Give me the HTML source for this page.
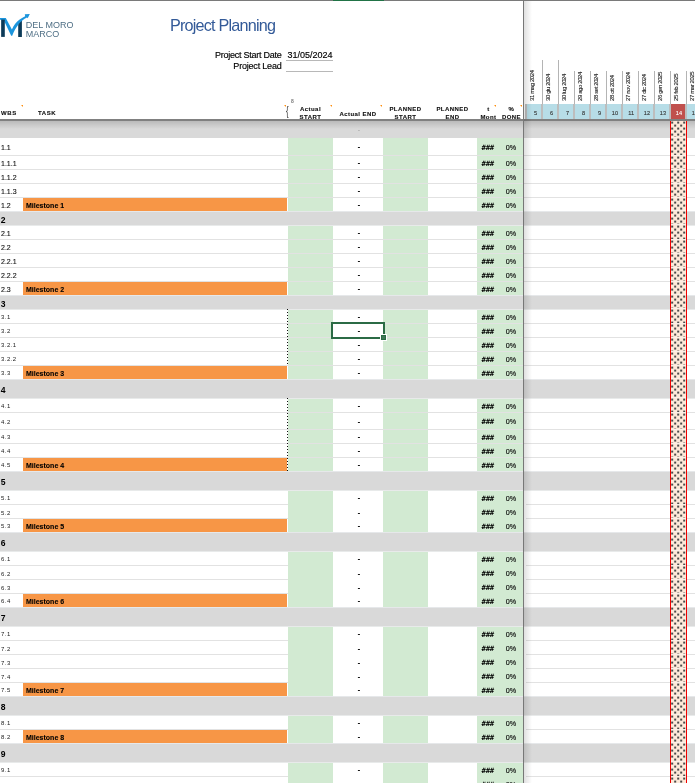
<!DOCTYPE html>
<html><head><meta charset="utf-8"><title>Project Planning</title>
<style>
*{margin:0;padding:0;box-sizing:border-box}
html,body{width:695px;height:783px;overflow:hidden;background:#fff}
body{position:relative;font-family:"Liberation Sans",Arial,sans-serif;color:#222}
.a{position:absolute}
.t{position:absolute;white-space:nowrap;line-height:1}
.hd{position:absolute;white-space:nowrap;line-height:1;font-weight:bold;font-size:6px;letter-spacing:0.45px;color:#111;text-align:center;-webkit-text-stroke:0.12px #111}
.wb{position:absolute;white-space:nowrap;line-height:1;font-size:7px;color:#111;left:1px;-webkit-text-stroke:0.12px #111}
.ws{position:absolute;white-space:nowrap;line-height:1;font-size:6px;color:#1a1a1a;left:1px;letter-spacing:0.45px}
.gl{position:absolute;white-space:nowrap;line-height:1;font-size:8.6px;font-weight:bold;color:#000;left:0.8px}
.ms{position:absolute;white-space:nowrap;line-height:1;font-size:7px;font-weight:bold;color:#000;left:26px;-webkit-text-stroke:0.1px #000}
.dash{position:absolute;left:357.8px;font-size:7px;-webkit-text-stroke:0.25px #111;font-weight:bold;line-height:1;color:#111;white-space:nowrap}
.hash{position:absolute;left:481.6px;font-family:"DejaVu Sans Mono",monospace;font-size:7.3px;font-weight:bold;line-height:1;letter-spacing:-0.3px;color:#000}
.pct{position:absolute;left:505.8px;font-size:7.2px;line-height:1;color:#000;-webkit-text-stroke:0.12px #000}
.dl{position:absolute;white-space:nowrap;line-height:1;font-size:6px;letter-spacing:-0.4px;color:#222;-webkit-text-stroke:0.1px #222;transform-origin:0 0;transform:rotate(-90deg)}
.wk{position:absolute;top:104px;height:15px;width:14px;background:#b7dde7}
.wn{position:absolute;font-size:5.6px;line-height:1;color:#222;white-space:nowrap;-webkit-text-stroke:0.1px}
.tri{position:absolute;width:0;height:0;border-top:2.5px solid #ff9010;border-left:2.5px solid transparent}
</style></head><body>

<div class="a" style="left:0;top:0;width:695px;height:1px;background:#7a7a7a"></div>
<div class="a" style="left:333px;top:0;width:51px;height:1px;background:#217346"></div>
<svg class="a" style="left:0;top:12px" width="75" height="28" viewBox="0 12 75 28">
<path d="M18.2 21.2 L21.9 19.8 L21.9 36.9 L18.2 36.9 Z" fill="#0c3a58"/>
<path d="M0 18 L5.8 18 L11.9 29.6 C13.6 25.6 16.6 21.6 19.3 19.8 C21 18.6 23 17.4 25.2 16.2 L24.8 14.2 L29.8 13.9 L27.7 18.2 L27 17.4 C20.3 20.7 15.8 26.6 12.2 35.8 L11.2 35.8 L3.8 20.2 L0 19.8 Z" fill="#1b95dd"/>
<path d="M1.15 19.6 L4.8 19.6 L4.8 36.9 L1.15 36.9 Z" fill="#0c3a58"/>
<text x="25.8" y="27.7" font-family="Liberation Sans, Arial, sans-serif" font-size="9" letter-spacing="0" fill="#4f6f85">DEL MORO</text>
<text x="25.8" y="37.1" font-family="Liberation Sans, Arial, sans-serif" font-size="9" letter-spacing="0" fill="#4f6f85">MARCO</text>
</svg>
<div class="t" style="left:170px;top:16.5px;font-size:16.2px;letter-spacing:-0.8px;color:#335a98">Project Planning</div>
<div class="t" style="left:200px;width:81.5px;text-align:right;top:50.9px;font-size:9px;letter-spacing:-0.25px;color:#000;-webkit-text-stroke:0.15px #000">Project Start Date</div>
<div class="t" style="left:200px;width:81.5px;text-align:right;top:62px;font-size:9px;letter-spacing:-0.2px;color:#000;-webkit-text-stroke:0.15px #000">Project Lead</div>
<div class="t" style="left:287.5px;top:50.9px;font-size:9px;letter-spacing:0px;color:#000;-webkit-text-stroke:0.15px #000">31/05/2024</div>
<div class="a" style="left:286px;top:60px;width:47px;height:1px;background:#b8b8b8"></div>
<div class="a" style="left:286px;top:71px;width:47px;height:1px;background:#b8b8b8"></div>
<div class="hd" style="left:1px;top:110px;letter-spacing:0.6px">WBS</div>
<div class="hd" style="left:38px;top:110px;letter-spacing:0.6px">TASK</div>
<div class="hd" style="left:288px;width:45px;top:106px">Actual</div>
<div class="hd" style="left:288px;width:45px;top:114px">START</div>
<div class="hd" style="left:333px;width:50px;top:110.5px">Actual END</div>
<div class="hd" style="left:383px;width:45px;top:106px">PLANNED</div>
<div class="hd" style="left:383px;width:45px;top:114px">START</div>
<div class="hd" style="left:428px;width:49px;top:106px">PLANNED</div>
<div class="hd" style="left:428px;width:49px;top:114px">END</div>
<div class="hd" style="left:477px;width:23px;top:106px">t</div>
<div class="hd" style="left:477px;width:23px;top:114px">Mont</div>
<div class="hd" style="left:500px;width:23px;top:106px">%</div>
<div class="hd" style="left:500px;width:23px;top:114px">DONE</div>
<div class="tri" style="left:21px;top:104.6px"></div>
<div class="tri" style="left:284px;top:104.6px"></div>
<div class="tri" style="left:330px;top:104.6px"></div>
<div class="tri" style="left:380px;top:104.6px"></div>
<div class="tri" style="left:494px;top:104.6px"></div>
<div class="tri" style="left:520px;top:104.6px"></div>
<div class="t" style="left:291px;top:98.8px;font-size:5px;font-weight:bold;color:#777">8</div>
<div class="t" style="left:286px;top:104px;font-size:13px;color:#333;transform:scaleX(0.6);transform-origin:0 0">{</div>
<div class="a" style="left:0;top:121px;width:695px;height:17px;background:#d9d9d9"></div>
<div class="a" style="left:288px;top:138px;width:45px;height:17px;background:#d2ead2"></div>
<div class="a" style="left:383px;top:138px;width:45px;height:17px;background:#d2ead2"></div>
<div class="a" style="left:477px;top:138px;width:46px;height:17px;background:#d2ead2"></div>
<div class="a" style="left:0;top:155px;width:695px;height:1px;background:#e2e2e2"></div>
<div class="wb" style="top:144.2px">1.1</div>
<div class="dash" style="top:142.8px">-</div>
<div class="hash" style="top:143.5px">###</div>
<div class="pct" style="top:143.5px">0%</div>
<div class="a" style="left:288px;top:156px;width:45px;height:13px;background:#d2ead2"></div>
<div class="a" style="left:383px;top:156px;width:45px;height:13px;background:#d2ead2"></div>
<div class="a" style="left:477px;top:156px;width:46px;height:13px;background:#d2ead2"></div>
<div class="a" style="left:0;top:169px;width:695px;height:1px;background:#e2e2e2"></div>
<div class="wb" style="top:160.2px">1.1.1</div>
<div class="dash" style="top:158.8px">-</div>
<div class="hash" style="top:159.5px">###</div>
<div class="pct" style="top:159.5px">0%</div>
<div class="a" style="left:288px;top:170px;width:45px;height:13px;background:#d2ead2"></div>
<div class="a" style="left:383px;top:170px;width:45px;height:13px;background:#d2ead2"></div>
<div class="a" style="left:477px;top:170px;width:46px;height:13px;background:#d2ead2"></div>
<div class="a" style="left:0;top:183px;width:695px;height:1px;background:#e2e2e2"></div>
<div class="wb" style="top:174.2px">1.1.2</div>
<div class="dash" style="top:172.8px">-</div>
<div class="hash" style="top:173.5px">###</div>
<div class="pct" style="top:173.5px">0%</div>
<div class="a" style="left:288px;top:184px;width:45px;height:13px;background:#d2ead2"></div>
<div class="a" style="left:383px;top:184px;width:45px;height:13px;background:#d2ead2"></div>
<div class="a" style="left:477px;top:184px;width:46px;height:13px;background:#d2ead2"></div>
<div class="a" style="left:0;top:197px;width:695px;height:1px;background:#e2e2e2"></div>
<div class="wb" style="top:188.2px">1.1.3</div>
<div class="dash" style="top:186.8px">-</div>
<div class="hash" style="top:187.5px">###</div>
<div class="pct" style="top:187.5px">0%</div>
<div class="a" style="left:288px;top:198px;width:45px;height:13px;background:#d2ead2"></div>
<div class="a" style="left:383px;top:198px;width:45px;height:13px;background:#d2ead2"></div>
<div class="a" style="left:477px;top:198px;width:46px;height:13px;background:#d2ead2"></div>
<div class="a" style="left:23px;top:198px;width:264px;height:13px;background:#f79646"></div>
<div class="ms" style="top:201.5px">Milestone 1</div>
<div class="wb" style="top:202.2px">1.2</div>
<div class="dash" style="top:200.8px">-</div>
<div class="hash" style="top:201.5px">###</div>
<div class="pct" style="top:201.5px">0%</div>
<div class="a" style="left:0;top:211px;width:695px;height:14px;background:#d9d9d9"></div>
<div class="a" style="left:0;top:211px;width:695px;height:1px;background:#e6e8ea"></div>
<div class="gl" style="top:215.7px">2</div>
<div class="a" style="left:288px;top:225px;width:45px;height:14px;background:#d2ead2"></div>
<div class="a" style="left:383px;top:225px;width:45px;height:14px;background:#d2ead2"></div>
<div class="a" style="left:477px;top:225px;width:46px;height:14px;background:#d2ead2"></div>
<div class="a" style="left:0;top:239px;width:695px;height:1px;background:#e2e2e2"></div>
<div class="a" style="left:0;top:225px;width:695px;height:1px;background:#e8eaea"></div>
<div class="wb" style="top:229.7px">2.1</div>
<div class="dash" style="top:228.8px">-</div>
<div class="hash" style="top:230.0px">###</div>
<div class="pct" style="top:230.0px">0%</div>
<div class="a" style="left:288px;top:240px;width:45px;height:13px;background:#d2ead2"></div>
<div class="a" style="left:383px;top:240px;width:45px;height:13px;background:#d2ead2"></div>
<div class="a" style="left:477px;top:240px;width:46px;height:13px;background:#d2ead2"></div>
<div class="a" style="left:0;top:253px;width:695px;height:1px;background:#e2e2e2"></div>
<div class="wb" style="top:244.2px">2.2</div>
<div class="dash" style="top:242.8px">-</div>
<div class="hash" style="top:243.5px">###</div>
<div class="pct" style="top:243.5px">0%</div>
<div class="a" style="left:288px;top:254px;width:45px;height:13px;background:#d2ead2"></div>
<div class="a" style="left:383px;top:254px;width:45px;height:13px;background:#d2ead2"></div>
<div class="a" style="left:477px;top:254px;width:46px;height:13px;background:#d2ead2"></div>
<div class="a" style="left:0;top:267px;width:695px;height:1px;background:#e2e2e2"></div>
<div class="wb" style="top:258.2px">2.2.1</div>
<div class="dash" style="top:256.8px">-</div>
<div class="hash" style="top:257.5px">###</div>
<div class="pct" style="top:257.5px">0%</div>
<div class="a" style="left:288px;top:268px;width:45px;height:13px;background:#d2ead2"></div>
<div class="a" style="left:383px;top:268px;width:45px;height:13px;background:#d2ead2"></div>
<div class="a" style="left:477px;top:268px;width:46px;height:13px;background:#d2ead2"></div>
<div class="a" style="left:0;top:281px;width:695px;height:1px;background:#e2e2e2"></div>
<div class="wb" style="top:272.2px">2.2.2</div>
<div class="dash" style="top:270.8px">-</div>
<div class="hash" style="top:271.5px">###</div>
<div class="pct" style="top:271.5px">0%</div>
<div class="a" style="left:288px;top:282px;width:45px;height:13px;background:#d2ead2"></div>
<div class="a" style="left:383px;top:282px;width:45px;height:13px;background:#d2ead2"></div>
<div class="a" style="left:477px;top:282px;width:46px;height:13px;background:#d2ead2"></div>
<div class="a" style="left:23px;top:282px;width:264px;height:13px;background:#f79646"></div>
<div class="ms" style="top:285.5px">Milestone 2</div>
<div class="wb" style="top:286.2px">2.3</div>
<div class="dash" style="top:284.8px">-</div>
<div class="hash" style="top:285.5px">###</div>
<div class="pct" style="top:285.5px">0%</div>
<div class="a" style="left:0;top:295px;width:695px;height:14px;background:#d9d9d9"></div>
<div class="a" style="left:0;top:295px;width:695px;height:1px;background:#e6e8ea"></div>
<div class="gl" style="top:299.7px">3</div>
<div class="a" style="left:288px;top:309px;width:45px;height:14px;background:#d2ead2"></div>
<div class="a" style="left:383px;top:309px;width:45px;height:14px;background:#d2ead2"></div>
<div class="a" style="left:477px;top:309px;width:46px;height:14px;background:#d2ead2"></div>
<div class="a" style="left:0;top:323px;width:695px;height:1px;background:#e2e2e2"></div>
<div class="a" style="left:0;top:309px;width:695px;height:1px;background:#e8eaea"></div>
<div class="ws" style="top:313.8px">3.1</div>
<div class="dash" style="top:312.8px">-</div>
<div class="hash" style="top:314.0px">###</div>
<div class="pct" style="top:314.0px">0%</div>
<div class="a" style="left:288px;top:324px;width:45px;height:13px;background:#d2ead2"></div>
<div class="a" style="left:383px;top:324px;width:45px;height:13px;background:#d2ead2"></div>
<div class="a" style="left:477px;top:324px;width:46px;height:13px;background:#d2ead2"></div>
<div class="a" style="left:0;top:337px;width:695px;height:1px;background:#e2e2e2"></div>
<div class="ws" style="top:328.3px">3.2</div>
<div class="dash" style="top:326.8px">-</div>
<div class="hash" style="top:327.5px">###</div>
<div class="pct" style="top:327.5px">0%</div>
<div class="a" style="left:288px;top:338px;width:45px;height:13px;background:#d2ead2"></div>
<div class="a" style="left:383px;top:338px;width:45px;height:13px;background:#d2ead2"></div>
<div class="a" style="left:477px;top:338px;width:46px;height:13px;background:#d2ead2"></div>
<div class="a" style="left:0;top:351px;width:695px;height:1px;background:#e2e2e2"></div>
<div class="ws" style="top:342.3px">3.2.1</div>
<div class="dash" style="top:340.8px">-</div>
<div class="hash" style="top:341.5px">###</div>
<div class="pct" style="top:341.5px">0%</div>
<div class="a" style="left:288px;top:352px;width:45px;height:13px;background:#d2ead2"></div>
<div class="a" style="left:383px;top:352px;width:45px;height:13px;background:#d2ead2"></div>
<div class="a" style="left:477px;top:352px;width:46px;height:13px;background:#d2ead2"></div>
<div class="a" style="left:0;top:365px;width:695px;height:1px;background:#e2e2e2"></div>
<div class="ws" style="top:356.3px">3.2.2</div>
<div class="dash" style="top:354.8px">-</div>
<div class="hash" style="top:355.5px">###</div>
<div class="pct" style="top:355.5px">0%</div>
<div class="a" style="left:288px;top:366px;width:45px;height:13px;background:#d2ead2"></div>
<div class="a" style="left:383px;top:366px;width:45px;height:13px;background:#d2ead2"></div>
<div class="a" style="left:477px;top:366px;width:46px;height:13px;background:#d2ead2"></div>
<div class="a" style="left:23px;top:366px;width:264px;height:13px;background:#f79646"></div>
<div class="ms" style="top:369.5px">Milestone 3</div>
<div class="ws" style="top:370.3px">3.3</div>
<div class="dash" style="top:368.8px">-</div>
<div class="hash" style="top:369.5px">###</div>
<div class="pct" style="top:369.5px">0%</div>
<div class="a" style="left:0;top:379px;width:695px;height:19px;background:#d9d9d9"></div>
<div class="a" style="left:0;top:379px;width:695px;height:1px;background:#e6e8ea"></div>
<div class="gl" style="top:386.2px">4</div>
<div class="a" style="left:288px;top:398px;width:45px;height:14px;background:#d2ead2"></div>
<div class="a" style="left:383px;top:398px;width:45px;height:14px;background:#d2ead2"></div>
<div class="a" style="left:477px;top:398px;width:46px;height:14px;background:#d2ead2"></div>
<div class="a" style="left:0;top:412px;width:695px;height:1px;background:#e2e2e2"></div>
<div class="a" style="left:0;top:398px;width:695px;height:1px;background:#e8eaea"></div>
<div class="ws" style="top:402.8px">4.1</div>
<div class="dash" style="top:401.8px">-</div>
<div class="hash" style="top:403.0px">###</div>
<div class="pct" style="top:403.0px">0%</div>
<div class="a" style="left:288px;top:413px;width:45px;height:16px;background:#d2ead2"></div>
<div class="a" style="left:383px;top:413px;width:45px;height:16px;background:#d2ead2"></div>
<div class="a" style="left:477px;top:413px;width:46px;height:16px;background:#d2ead2"></div>
<div class="a" style="left:0;top:429px;width:695px;height:1px;background:#e2e2e2"></div>
<div class="ws" style="top:418.8px">4.2</div>
<div class="dash" style="top:417.8px">-</div>
<div class="hash" style="top:418.0px">###</div>
<div class="pct" style="top:418.0px">0%</div>
<div class="a" style="left:288px;top:430px;width:45px;height:13px;background:#d2ead2"></div>
<div class="a" style="left:383px;top:430px;width:45px;height:13px;background:#d2ead2"></div>
<div class="a" style="left:477px;top:430px;width:46px;height:13px;background:#d2ead2"></div>
<div class="a" style="left:0;top:443px;width:695px;height:1px;background:#e2e2e2"></div>
<div class="ws" style="top:434.3px">4.3</div>
<div class="dash" style="top:432.8px">-</div>
<div class="hash" style="top:433.5px">###</div>
<div class="pct" style="top:433.5px">0%</div>
<div class="a" style="left:288px;top:444px;width:45px;height:13px;background:#d2ead2"></div>
<div class="a" style="left:383px;top:444px;width:45px;height:13px;background:#d2ead2"></div>
<div class="a" style="left:477px;top:444px;width:46px;height:13px;background:#d2ead2"></div>
<div class="a" style="left:0;top:457px;width:695px;height:1px;background:#e2e2e2"></div>
<div class="ws" style="top:448.3px">4.4</div>
<div class="dash" style="top:446.8px">-</div>
<div class="hash" style="top:447.5px">###</div>
<div class="pct" style="top:447.5px">0%</div>
<div class="a" style="left:288px;top:458px;width:45px;height:13px;background:#d2ead2"></div>
<div class="a" style="left:383px;top:458px;width:45px;height:13px;background:#d2ead2"></div>
<div class="a" style="left:477px;top:458px;width:46px;height:13px;background:#d2ead2"></div>
<div class="a" style="left:23px;top:458px;width:264px;height:13px;background:#f79646"></div>
<div class="ms" style="top:461.5px">Milestone 4</div>
<div class="ws" style="top:462.3px">4.5</div>
<div class="dash" style="top:460.8px">-</div>
<div class="hash" style="top:461.5px">###</div>
<div class="pct" style="top:461.5px">0%</div>
<div class="a" style="left:0;top:471px;width:695px;height:19px;background:#d9d9d9"></div>
<div class="a" style="left:0;top:471px;width:695px;height:1px;background:#e6e8ea"></div>
<div class="gl" style="top:478.2px">5</div>
<div class="a" style="left:288px;top:490px;width:45px;height:15px;background:#d2ead2"></div>
<div class="a" style="left:383px;top:490px;width:45px;height:15px;background:#d2ead2"></div>
<div class="a" style="left:477px;top:490px;width:46px;height:15px;background:#d2ead2"></div>
<div class="a" style="left:0;top:504px;width:288px;height:1px;background:#e2e2e2"></div>
<div class="a" style="left:526px;top:504px;width:169px;height:1px;background:#e2e2e2"></div>
<div class="a" style="left:0;top:490px;width:695px;height:1px;background:#e8eaea"></div>
<div class="ws" style="top:495.3px">5.1</div>
<div class="dash" style="top:493.8px">-</div>
<div class="hash" style="top:495.0px">###</div>
<div class="pct" style="top:495.0px">0%</div>
<div class="a" style="left:288px;top:505px;width:45px;height:14px;background:#d2ead2"></div>
<div class="a" style="left:383px;top:505px;width:45px;height:14px;background:#d2ead2"></div>
<div class="a" style="left:477px;top:505px;width:46px;height:14px;background:#d2ead2"></div>
<div class="a" style="left:0;top:518px;width:288px;height:1px;background:#e2e2e2"></div>
<div class="a" style="left:526px;top:518px;width:169px;height:1px;background:#e2e2e2"></div>
<div class="ws" style="top:509.8px">5.2</div>
<div class="dash" style="top:508.8px">-</div>
<div class="hash" style="top:509.0px">###</div>
<div class="pct" style="top:509.0px">0%</div>
<div class="a" style="left:288px;top:519px;width:45px;height:13px;background:#d2ead2"></div>
<div class="a" style="left:383px;top:519px;width:45px;height:13px;background:#d2ead2"></div>
<div class="a" style="left:477px;top:519px;width:46px;height:13px;background:#d2ead2"></div>
<div class="a" style="left:23px;top:519px;width:264px;height:13px;background:#f79646"></div>
<div class="ms" style="top:522.5px">Milestone 5</div>
<div class="ws" style="top:523.3px">5.3</div>
<div class="dash" style="top:521.8px">-</div>
<div class="hash" style="top:522.5px">###</div>
<div class="pct" style="top:522.5px">0%</div>
<div class="a" style="left:0;top:532px;width:695px;height:19px;background:#d9d9d9"></div>
<div class="a" style="left:0;top:532px;width:695px;height:1px;background:#e6e8ea"></div>
<div class="gl" style="top:539.2px">6</div>
<div class="a" style="left:288px;top:551px;width:45px;height:15px;background:#d2ead2"></div>
<div class="a" style="left:383px;top:551px;width:45px;height:15px;background:#d2ead2"></div>
<div class="a" style="left:477px;top:551px;width:46px;height:15px;background:#d2ead2"></div>
<div class="a" style="left:0;top:565px;width:288px;height:1px;background:#e2e2e2"></div>
<div class="a" style="left:526px;top:565px;width:169px;height:1px;background:#e2e2e2"></div>
<div class="a" style="left:0;top:551px;width:695px;height:1px;background:#e8eaea"></div>
<div class="ws" style="top:556.3px">6.1</div>
<div class="dash" style="top:554.8px">-</div>
<div class="hash" style="top:556.0px">###</div>
<div class="pct" style="top:556.0px">0%</div>
<div class="a" style="left:288px;top:566px;width:45px;height:14px;background:#d2ead2"></div>
<div class="a" style="left:383px;top:566px;width:45px;height:14px;background:#d2ead2"></div>
<div class="a" style="left:477px;top:566px;width:46px;height:14px;background:#d2ead2"></div>
<div class="a" style="left:0;top:579px;width:288px;height:1px;background:#e2e2e2"></div>
<div class="a" style="left:526px;top:579px;width:169px;height:1px;background:#e2e2e2"></div>
<div class="ws" style="top:570.8px">6.2</div>
<div class="dash" style="top:569.8px">-</div>
<div class="hash" style="top:570.0px">###</div>
<div class="pct" style="top:570.0px">0%</div>
<div class="a" style="left:288px;top:580px;width:45px;height:14px;background:#d2ead2"></div>
<div class="a" style="left:383px;top:580px;width:45px;height:14px;background:#d2ead2"></div>
<div class="a" style="left:477px;top:580px;width:46px;height:14px;background:#d2ead2"></div>
<div class="a" style="left:0;top:593px;width:288px;height:1px;background:#e2e2e2"></div>
<div class="a" style="left:526px;top:593px;width:169px;height:1px;background:#e2e2e2"></div>
<div class="ws" style="top:584.8px">6.3</div>
<div class="dash" style="top:583.8px">-</div>
<div class="hash" style="top:584.0px">###</div>
<div class="pct" style="top:584.0px">0%</div>
<div class="a" style="left:288px;top:594px;width:45px;height:13px;background:#d2ead2"></div>
<div class="a" style="left:383px;top:594px;width:45px;height:13px;background:#d2ead2"></div>
<div class="a" style="left:477px;top:594px;width:46px;height:13px;background:#d2ead2"></div>
<div class="a" style="left:23px;top:594px;width:264px;height:13px;background:#f79646"></div>
<div class="ms" style="top:597.5px">Milestone 6</div>
<div class="ws" style="top:598.3px">6.4</div>
<div class="dash" style="top:596.8px">-</div>
<div class="hash" style="top:597.5px">###</div>
<div class="pct" style="top:597.5px">0%</div>
<div class="a" style="left:0;top:607px;width:695px;height:19px;background:#d9d9d9"></div>
<div class="a" style="left:0;top:607px;width:695px;height:1px;background:#e6e8ea"></div>
<div class="gl" style="top:614.2px">7</div>
<div class="a" style="left:288px;top:626px;width:45px;height:15px;background:#d2ead2"></div>
<div class="a" style="left:383px;top:626px;width:45px;height:15px;background:#d2ead2"></div>
<div class="a" style="left:477px;top:626px;width:46px;height:15px;background:#d2ead2"></div>
<div class="a" style="left:0;top:640px;width:288px;height:1px;background:#e2e2e2"></div>
<div class="a" style="left:526px;top:640px;width:169px;height:1px;background:#e2e2e2"></div>
<div class="a" style="left:0;top:626px;width:695px;height:1px;background:#e8eaea"></div>
<div class="ws" style="top:631.3px">7.1</div>
<div class="dash" style="top:629.8px">-</div>
<div class="hash" style="top:631.0px">###</div>
<div class="pct" style="top:631.0px">0%</div>
<div class="a" style="left:288px;top:641px;width:45px;height:14px;background:#d2ead2"></div>
<div class="a" style="left:383px;top:641px;width:45px;height:14px;background:#d2ead2"></div>
<div class="a" style="left:477px;top:641px;width:46px;height:14px;background:#d2ead2"></div>
<div class="a" style="left:0;top:654px;width:288px;height:1px;background:#e2e2e2"></div>
<div class="a" style="left:526px;top:654px;width:169px;height:1px;background:#e2e2e2"></div>
<div class="ws" style="top:645.8px">7.2</div>
<div class="dash" style="top:644.8px">-</div>
<div class="hash" style="top:645.0px">###</div>
<div class="pct" style="top:645.0px">0%</div>
<div class="a" style="left:288px;top:655px;width:45px;height:14px;background:#d2ead2"></div>
<div class="a" style="left:383px;top:655px;width:45px;height:14px;background:#d2ead2"></div>
<div class="a" style="left:477px;top:655px;width:46px;height:14px;background:#d2ead2"></div>
<div class="a" style="left:0;top:668px;width:288px;height:1px;background:#e2e2e2"></div>
<div class="a" style="left:526px;top:668px;width:169px;height:1px;background:#e2e2e2"></div>
<div class="ws" style="top:659.8px">7.3</div>
<div class="dash" style="top:658.8px">-</div>
<div class="hash" style="top:659.0px">###</div>
<div class="pct" style="top:659.0px">0%</div>
<div class="a" style="left:288px;top:669px;width:45px;height:14px;background:#d2ead2"></div>
<div class="a" style="left:383px;top:669px;width:45px;height:14px;background:#d2ead2"></div>
<div class="a" style="left:477px;top:669px;width:46px;height:14px;background:#d2ead2"></div>
<div class="a" style="left:0;top:682px;width:288px;height:1px;background:#e2e2e2"></div>
<div class="a" style="left:526px;top:682px;width:169px;height:1px;background:#e2e2e2"></div>
<div class="ws" style="top:673.8px">7.4</div>
<div class="dash" style="top:672.8px">-</div>
<div class="hash" style="top:673.0px">###</div>
<div class="pct" style="top:673.0px">0%</div>
<div class="a" style="left:288px;top:683px;width:45px;height:13px;background:#d2ead2"></div>
<div class="a" style="left:383px;top:683px;width:45px;height:13px;background:#d2ead2"></div>
<div class="a" style="left:477px;top:683px;width:46px;height:13px;background:#d2ead2"></div>
<div class="a" style="left:23px;top:683px;width:264px;height:13px;background:#f79646"></div>
<div class="ms" style="top:686.5px">Milestone 7</div>
<div class="ws" style="top:687.3px">7.5</div>
<div class="dash" style="top:685.8px">-</div>
<div class="hash" style="top:686.5px">###</div>
<div class="pct" style="top:686.5px">0%</div>
<div class="a" style="left:0;top:696px;width:695px;height:19px;background:#d9d9d9"></div>
<div class="a" style="left:0;top:696px;width:695px;height:1px;background:#e6e8ea"></div>
<div class="gl" style="top:703.2px">8</div>
<div class="a" style="left:288px;top:715px;width:45px;height:15px;background:#d2ead2"></div>
<div class="a" style="left:383px;top:715px;width:45px;height:15px;background:#d2ead2"></div>
<div class="a" style="left:477px;top:715px;width:46px;height:15px;background:#d2ead2"></div>
<div class="a" style="left:0;top:729px;width:288px;height:1px;background:#e2e2e2"></div>
<div class="a" style="left:526px;top:729px;width:169px;height:1px;background:#e2e2e2"></div>
<div class="a" style="left:0;top:715px;width:695px;height:1px;background:#e8eaea"></div>
<div class="ws" style="top:720.3px">8.1</div>
<div class="dash" style="top:718.8px">-</div>
<div class="hash" style="top:720.0px">###</div>
<div class="pct" style="top:720.0px">0%</div>
<div class="a" style="left:288px;top:730px;width:45px;height:13px;background:#d2ead2"></div>
<div class="a" style="left:383px;top:730px;width:45px;height:13px;background:#d2ead2"></div>
<div class="a" style="left:477px;top:730px;width:46px;height:13px;background:#d2ead2"></div>
<div class="a" style="left:23px;top:730px;width:264px;height:13px;background:#f79646"></div>
<div class="ms" style="top:733.5px">Milestone 8</div>
<div class="ws" style="top:734.3px">8.2</div>
<div class="dash" style="top:732.8px">-</div>
<div class="hash" style="top:733.5px">###</div>
<div class="pct" style="top:733.5px">0%</div>
<div class="a" style="left:0;top:743px;width:695px;height:19px;background:#d9d9d9"></div>
<div class="a" style="left:0;top:743px;width:695px;height:1px;background:#e6e8ea"></div>
<div class="gl" style="top:750.2px">9</div>
<div class="a" style="left:288px;top:762px;width:45px;height:15px;background:#d2ead2"></div>
<div class="a" style="left:383px;top:762px;width:45px;height:15px;background:#d2ead2"></div>
<div class="a" style="left:477px;top:762px;width:46px;height:15px;background:#d2ead2"></div>
<div class="a" style="left:0;top:776px;width:288px;height:1px;background:#e2e2e2"></div>
<div class="a" style="left:526px;top:776px;width:169px;height:1px;background:#e2e2e2"></div>
<div class="a" style="left:0;top:762px;width:695px;height:1px;background:#e8eaea"></div>
<div class="ws" style="top:767.3px">9.1</div>
<div class="dash" style="top:765.8px">-</div>
<div class="hash" style="top:767.0px">###</div>
<div class="pct" style="top:767.0px">0%</div>
<div class="a" style="left:288px;top:777px;width:45px;height:14px;background:#d2ead2"></div>
<div class="a" style="left:383px;top:777px;width:45px;height:14px;background:#d2ead2"></div>
<div class="a" style="left:477px;top:777px;width:46px;height:14px;background:#d2ead2"></div>
<div class="a" style="left:0;top:790px;width:288px;height:1px;background:#e2e2e2"></div>
<div class="a" style="left:526px;top:790px;width:169px;height:1px;background:#e2e2e2"></div>
<div class="ws" style="top:781.8px">9.2</div>
<div class="dash" style="top:780.8px">-</div>
<div class="hash" style="top:781.0px">###</div>
<div class="pct" style="top:781.0px">0%</div>
<div class="dash" style="top:125.8px;color:#999;font-weight:normal;-webkit-text-stroke:0">-</div>
<div class="a" style="left:287px;top:309px;width:1px;height:57px;background:repeating-linear-gradient(to bottom,#111 0 1px,transparent 1px 3px)"></div>
<div class="a" style="left:287px;top:398px;width:1px;height:73px;background:repeating-linear-gradient(to bottom,#111 0 1px,transparent 1px 3px)"></div>
<div class="dl" style="left:528.6px;top:100.8px">31 mag 2024</div>
<div class="a" style="left:525px;top:104px;width:2px;height:15px;background:#bdbdbd"></div>
<div class="a" style="left:527px;top:104px;width:14px;height:15px;background:#b7dde7"></div>
<div class="wn" style="left:526px;width:11px;text-align:right;top:110.5px;color:#333">5</div>
<div class="a" style="left:542px;top:60px;width:1px;height:44px;background:#b4b4b4"></div>
<div class="dl" style="left:544.6px;top:100.8px">30 giu 2024</div>
<div class="a" style="left:541px;top:104px;width:2px;height:15px;background:#bdbdbd"></div>
<div class="a" style="left:543px;top:104px;width:14px;height:15px;background:#b7dde7"></div>
<div class="wn" style="left:542px;width:11px;text-align:right;top:110.5px;color:#333">6</div>
<div class="a" style="left:558px;top:60px;width:1px;height:44px;background:#b4b4b4"></div>
<div class="dl" style="left:560.6px;top:100.8px">30 lug 2024</div>
<div class="a" style="left:557px;top:104px;width:2px;height:15px;background:#bdbdbd"></div>
<div class="a" style="left:559px;top:104px;width:14px;height:15px;background:#b7dde7"></div>
<div class="wn" style="left:558px;width:11px;text-align:right;top:110.5px;color:#333">7</div>
<div class="a" style="left:574px;top:71px;width:1px;height:33px;background:#b4b4b4"></div>
<div class="dl" style="left:576.6px;top:100.8px">29 ago 2024</div>
<div class="a" style="left:573px;top:104px;width:2px;height:15px;background:#bdbdbd"></div>
<div class="a" style="left:575px;top:104px;width:14px;height:15px;background:#b7dde7"></div>
<div class="wn" style="left:574px;width:11px;text-align:right;top:110.5px;color:#333">8</div>
<div class="a" style="left:590px;top:71px;width:1px;height:33px;background:#b4b4b4"></div>
<div class="dl" style="left:592.6px;top:100.8px">28 set 2024</div>
<div class="a" style="left:589px;top:104px;width:2px;height:15px;background:#bdbdbd"></div>
<div class="a" style="left:591px;top:104px;width:14px;height:15px;background:#b7dde7"></div>
<div class="wn" style="left:590px;width:11px;text-align:right;top:110.5px;color:#333">9</div>
<div class="a" style="left:606px;top:71px;width:1px;height:33px;background:#b4b4b4"></div>
<div class="dl" style="left:608.6px;top:100.8px">28 ott 2024</div>
<div class="a" style="left:605px;top:104px;width:2px;height:15px;background:#bdbdbd"></div>
<div class="a" style="left:607px;top:104px;width:14px;height:15px;background:#b7dde7"></div>
<div class="wn" style="left:607px;width:11px;text-align:right;top:110.5px;color:#333">10</div>
<div class="a" style="left:622px;top:71px;width:1px;height:33px;background:#b4b4b4"></div>
<div class="dl" style="left:624.6px;top:100.8px">27 nov 2024</div>
<div class="a" style="left:621px;top:104px;width:2px;height:15px;background:#bdbdbd"></div>
<div class="a" style="left:623px;top:104px;width:14px;height:15px;background:#b7dde7"></div>
<div class="wn" style="left:623px;width:11px;text-align:right;top:110.5px;color:#333">11</div>
<div class="a" style="left:638px;top:71px;width:1px;height:33px;background:#b4b4b4"></div>
<div class="dl" style="left:640.6px;top:100.8px">27 dic 2024</div>
<div class="a" style="left:637px;top:104px;width:2px;height:15px;background:#bdbdbd"></div>
<div class="a" style="left:639px;top:104px;width:14px;height:15px;background:#b7dde7"></div>
<div class="wn" style="left:639px;width:11px;text-align:right;top:110.5px;color:#333">12</div>
<div class="a" style="left:654px;top:71px;width:1px;height:33px;background:#b4b4b4"></div>
<div class="dl" style="left:656.6px;top:100.8px">26 gen 2025</div>
<div class="a" style="left:653px;top:104px;width:2px;height:15px;background:#bdbdbd"></div>
<div class="a" style="left:655px;top:104px;width:14px;height:15px;background:#b7dde7"></div>
<div class="wn" style="left:655px;width:11px;text-align:right;top:110.5px;color:#333">13</div>
<div class="a" style="left:670px;top:71px;width:1px;height:33px;background:#b4b4b4"></div>
<div class="dl" style="left:672.6px;top:100.8px">25 feb 2025</div>
<div class="a" style="left:669px;top:104px;width:2px;height:15px;background:#bdbdbd"></div>
<div class="a" style="left:671px;top:104px;width:14px;height:15px;background:#c0504d"></div>
<div class="wn" style="left:671px;width:11px;text-align:right;top:110.5px;color:#fff">14</div>
<div class="a" style="left:686px;top:71px;width:1px;height:33px;background:#b4b4b4"></div>
<div class="dl" style="left:688.6px;top:100.8px">27 mar 2025</div>
<div class="a" style="left:685px;top:104px;width:2px;height:15px;background:#bdbdbd"></div>
<div class="a" style="left:687px;top:104px;width:14px;height:15px;background:#b7dde7"></div>
<div class="wn" style="left:687px;width:11px;text-align:right;top:110.5px;color:#333">15</div>
<div class="a" style="left:0;top:119px;width:695px;height:2px;background:#808080"></div>
<div class="a" style="left:0;top:121px;width:695px;height:8px;background:linear-gradient(to bottom,rgba(0,0,0,0.14),rgba(0,0,0,0))"></div>
<div class="a" style="left:671px;top:121px;width:15px;height:17px;background:#fbf0e8"></div>
<div class="a" style="left:671px;top:121px;width:15px;height:16px;background-color:#fde9d9;background-image:radial-gradient(circle,#4a4a4a 0.75px,transparent 0.95px),radial-gradient(circle,#4a4a4a 0.75px,transparent 0.95px);background-size:6px 6px;background-position:4.2px 4.6px,1.2px 1.6px"></div>
<div class="a" style="left:671px;top:138px;width:15px;height:18px;background:#fbf0e8"></div>
<div class="a" style="left:671px;top:138px;width:15px;height:17px;background-color:#fde9d9;background-image:radial-gradient(circle,#4a4a4a 0.75px,transparent 0.95px),radial-gradient(circle,#4a4a4a 0.75px,transparent 0.95px);background-size:6px 6px;background-position:4.2px 4.6px,1.2px 1.6px"></div>
<div class="a" style="left:671px;top:156px;width:15px;height:14px;background:#fbf0e8"></div>
<div class="a" style="left:671px;top:156px;width:15px;height:13px;background-color:#fde9d9;background-image:radial-gradient(circle,#4a4a4a 0.75px,transparent 0.95px),radial-gradient(circle,#4a4a4a 0.75px,transparent 0.95px);background-size:6px 6px;background-position:4.2px 4.6px,1.2px 1.6px"></div>
<div class="a" style="left:671px;top:170px;width:15px;height:14px;background:#fbf0e8"></div>
<div class="a" style="left:671px;top:170px;width:15px;height:13px;background-color:#fde9d9;background-image:radial-gradient(circle,#4a4a4a 0.75px,transparent 0.95px),radial-gradient(circle,#4a4a4a 0.75px,transparent 0.95px);background-size:6px 6px;background-position:4.2px 4.6px,1.2px 1.6px"></div>
<div class="a" style="left:671px;top:184px;width:15px;height:14px;background:#fbf0e8"></div>
<div class="a" style="left:671px;top:184px;width:15px;height:13px;background-color:#fde9d9;background-image:radial-gradient(circle,#4a4a4a 0.75px,transparent 0.95px),radial-gradient(circle,#4a4a4a 0.75px,transparent 0.95px);background-size:6px 6px;background-position:4.2px 4.6px,1.2px 1.6px"></div>
<div class="a" style="left:671px;top:198px;width:15px;height:13px;background:#fbf0e8"></div>
<div class="a" style="left:671px;top:198px;width:15px;height:12px;background-color:#fde9d9;background-image:radial-gradient(circle,#4a4a4a 0.75px,transparent 0.95px),radial-gradient(circle,#4a4a4a 0.75px,transparent 0.95px);background-size:6px 6px;background-position:4.2px 4.6px,1.2px 1.6px"></div>
<div class="a" style="left:671px;top:211px;width:15px;height:14px;background:#fbf0e8"></div>
<div class="a" style="left:671px;top:211px;width:15px;height:13px;background-color:#fde9d9;background-image:radial-gradient(circle,#4a4a4a 0.75px,transparent 0.95px),radial-gradient(circle,#4a4a4a 0.75px,transparent 0.95px);background-size:6px 6px;background-position:4.2px 4.6px,1.2px 1.6px"></div>
<div class="a" style="left:671px;top:225px;width:15px;height:15px;background:#fbf0e8"></div>
<div class="a" style="left:671px;top:225px;width:15px;height:14px;background-color:#fde9d9;background-image:radial-gradient(circle,#4a4a4a 0.75px,transparent 0.95px),radial-gradient(circle,#4a4a4a 0.75px,transparent 0.95px);background-size:6px 6px;background-position:4.2px 4.6px,1.2px 1.6px"></div>
<div class="a" style="left:671px;top:240px;width:15px;height:14px;background:#fbf0e8"></div>
<div class="a" style="left:671px;top:240px;width:15px;height:13px;background-color:#fde9d9;background-image:radial-gradient(circle,#4a4a4a 0.75px,transparent 0.95px),radial-gradient(circle,#4a4a4a 0.75px,transparent 0.95px);background-size:6px 6px;background-position:4.2px 4.6px,1.2px 1.6px"></div>
<div class="a" style="left:671px;top:254px;width:15px;height:14px;background:#fbf0e8"></div>
<div class="a" style="left:671px;top:254px;width:15px;height:13px;background-color:#fde9d9;background-image:radial-gradient(circle,#4a4a4a 0.75px,transparent 0.95px),radial-gradient(circle,#4a4a4a 0.75px,transparent 0.95px);background-size:6px 6px;background-position:4.2px 4.6px,1.2px 1.6px"></div>
<div class="a" style="left:671px;top:268px;width:15px;height:14px;background:#fbf0e8"></div>
<div class="a" style="left:671px;top:268px;width:15px;height:13px;background-color:#fde9d9;background-image:radial-gradient(circle,#4a4a4a 0.75px,transparent 0.95px),radial-gradient(circle,#4a4a4a 0.75px,transparent 0.95px);background-size:6px 6px;background-position:4.2px 4.6px,1.2px 1.6px"></div>
<div class="a" style="left:671px;top:282px;width:15px;height:13px;background:#fbf0e8"></div>
<div class="a" style="left:671px;top:282px;width:15px;height:12px;background-color:#fde9d9;background-image:radial-gradient(circle,#4a4a4a 0.75px,transparent 0.95px),radial-gradient(circle,#4a4a4a 0.75px,transparent 0.95px);background-size:6px 6px;background-position:4.2px 4.6px,1.2px 1.6px"></div>
<div class="a" style="left:671px;top:295px;width:15px;height:14px;background:#fbf0e8"></div>
<div class="a" style="left:671px;top:295px;width:15px;height:13px;background-color:#fde9d9;background-image:radial-gradient(circle,#4a4a4a 0.75px,transparent 0.95px),radial-gradient(circle,#4a4a4a 0.75px,transparent 0.95px);background-size:6px 6px;background-position:4.2px 4.6px,1.2px 1.6px"></div>
<div class="a" style="left:671px;top:309px;width:15px;height:15px;background:#fbf0e8"></div>
<div class="a" style="left:671px;top:309px;width:15px;height:14px;background-color:#fde9d9;background-image:radial-gradient(circle,#4a4a4a 0.75px,transparent 0.95px),radial-gradient(circle,#4a4a4a 0.75px,transparent 0.95px);background-size:6px 6px;background-position:4.2px 4.6px,1.2px 1.6px"></div>
<div class="a" style="left:671px;top:324px;width:15px;height:14px;background:#fbf0e8"></div>
<div class="a" style="left:671px;top:324px;width:15px;height:13px;background-color:#fde9d9;background-image:radial-gradient(circle,#4a4a4a 0.75px,transparent 0.95px),radial-gradient(circle,#4a4a4a 0.75px,transparent 0.95px);background-size:6px 6px;background-position:4.2px 4.6px,1.2px 1.6px"></div>
<div class="a" style="left:671px;top:338px;width:15px;height:14px;background:#fbf0e8"></div>
<div class="a" style="left:671px;top:338px;width:15px;height:13px;background-color:#fde9d9;background-image:radial-gradient(circle,#4a4a4a 0.75px,transparent 0.95px),radial-gradient(circle,#4a4a4a 0.75px,transparent 0.95px);background-size:6px 6px;background-position:4.2px 4.6px,1.2px 1.6px"></div>
<div class="a" style="left:671px;top:352px;width:15px;height:14px;background:#fbf0e8"></div>
<div class="a" style="left:671px;top:352px;width:15px;height:13px;background-color:#fde9d9;background-image:radial-gradient(circle,#4a4a4a 0.75px,transparent 0.95px),radial-gradient(circle,#4a4a4a 0.75px,transparent 0.95px);background-size:6px 6px;background-position:4.2px 4.6px,1.2px 1.6px"></div>
<div class="a" style="left:671px;top:366px;width:15px;height:13px;background:#fbf0e8"></div>
<div class="a" style="left:671px;top:366px;width:15px;height:12px;background-color:#fde9d9;background-image:radial-gradient(circle,#4a4a4a 0.75px,transparent 0.95px),radial-gradient(circle,#4a4a4a 0.75px,transparent 0.95px);background-size:6px 6px;background-position:4.2px 4.6px,1.2px 1.6px"></div>
<div class="a" style="left:671px;top:379px;width:15px;height:19px;background:#fbf0e8"></div>
<div class="a" style="left:671px;top:379px;width:15px;height:18px;background-color:#fde9d9;background-image:radial-gradient(circle,#4a4a4a 0.75px,transparent 0.95px),radial-gradient(circle,#4a4a4a 0.75px,transparent 0.95px);background-size:6px 6px;background-position:4.2px 4.6px,1.2px 1.6px"></div>
<div class="a" style="left:671px;top:398px;width:15px;height:15px;background:#fbf0e8"></div>
<div class="a" style="left:671px;top:398px;width:15px;height:14px;background-color:#fde9d9;background-image:radial-gradient(circle,#4a4a4a 0.75px,transparent 0.95px),radial-gradient(circle,#4a4a4a 0.75px,transparent 0.95px);background-size:6px 6px;background-position:4.2px 4.6px,1.2px 1.6px"></div>
<div class="a" style="left:671px;top:413px;width:15px;height:17px;background:#fbf0e8"></div>
<div class="a" style="left:671px;top:413px;width:15px;height:16px;background-color:#fde9d9;background-image:radial-gradient(circle,#4a4a4a 0.75px,transparent 0.95px),radial-gradient(circle,#4a4a4a 0.75px,transparent 0.95px);background-size:6px 6px;background-position:4.2px 4.6px,1.2px 1.6px"></div>
<div class="a" style="left:671px;top:430px;width:15px;height:14px;background:#fbf0e8"></div>
<div class="a" style="left:671px;top:430px;width:15px;height:13px;background-color:#fde9d9;background-image:radial-gradient(circle,#4a4a4a 0.75px,transparent 0.95px),radial-gradient(circle,#4a4a4a 0.75px,transparent 0.95px);background-size:6px 6px;background-position:4.2px 4.6px,1.2px 1.6px"></div>
<div class="a" style="left:671px;top:444px;width:15px;height:14px;background:#fbf0e8"></div>
<div class="a" style="left:671px;top:444px;width:15px;height:13px;background-color:#fde9d9;background-image:radial-gradient(circle,#4a4a4a 0.75px,transparent 0.95px),radial-gradient(circle,#4a4a4a 0.75px,transparent 0.95px);background-size:6px 6px;background-position:4.2px 4.6px,1.2px 1.6px"></div>
<div class="a" style="left:671px;top:458px;width:15px;height:13px;background:#fbf0e8"></div>
<div class="a" style="left:671px;top:458px;width:15px;height:12px;background-color:#fde9d9;background-image:radial-gradient(circle,#4a4a4a 0.75px,transparent 0.95px),radial-gradient(circle,#4a4a4a 0.75px,transparent 0.95px);background-size:6px 6px;background-position:4.2px 4.6px,1.2px 1.6px"></div>
<div class="a" style="left:671px;top:471px;width:15px;height:19px;background:#fbf0e8"></div>
<div class="a" style="left:671px;top:471px;width:15px;height:18px;background-color:#fde9d9;background-image:radial-gradient(circle,#4a4a4a 0.75px,transparent 0.95px),radial-gradient(circle,#4a4a4a 0.75px,transparent 0.95px);background-size:6px 6px;background-position:4.2px 4.6px,1.2px 1.6px"></div>
<div class="a" style="left:671px;top:490px;width:15px;height:15px;background:#fbf0e8"></div>
<div class="a" style="left:671px;top:490px;width:15px;height:14px;background-color:#fde9d9;background-image:radial-gradient(circle,#4a4a4a 0.75px,transparent 0.95px),radial-gradient(circle,#4a4a4a 0.75px,transparent 0.95px);background-size:6px 6px;background-position:4.2px 4.6px,1.2px 1.6px"></div>
<div class="a" style="left:671px;top:505px;width:15px;height:14px;background:#fbf0e8"></div>
<div class="a" style="left:671px;top:505px;width:15px;height:13px;background-color:#fde9d9;background-image:radial-gradient(circle,#4a4a4a 0.75px,transparent 0.95px),radial-gradient(circle,#4a4a4a 0.75px,transparent 0.95px);background-size:6px 6px;background-position:4.2px 4.6px,1.2px 1.6px"></div>
<div class="a" style="left:671px;top:519px;width:15px;height:13px;background:#fbf0e8"></div>
<div class="a" style="left:671px;top:519px;width:15px;height:12px;background-color:#fde9d9;background-image:radial-gradient(circle,#4a4a4a 0.75px,transparent 0.95px),radial-gradient(circle,#4a4a4a 0.75px,transparent 0.95px);background-size:6px 6px;background-position:4.2px 4.6px,1.2px 1.6px"></div>
<div class="a" style="left:671px;top:532px;width:15px;height:19px;background:#fbf0e8"></div>
<div class="a" style="left:671px;top:532px;width:15px;height:18px;background-color:#fde9d9;background-image:radial-gradient(circle,#4a4a4a 0.75px,transparent 0.95px),radial-gradient(circle,#4a4a4a 0.75px,transparent 0.95px);background-size:6px 6px;background-position:4.2px 4.6px,1.2px 1.6px"></div>
<div class="a" style="left:671px;top:551px;width:15px;height:15px;background:#fbf0e8"></div>
<div class="a" style="left:671px;top:551px;width:15px;height:14px;background-color:#fde9d9;background-image:radial-gradient(circle,#4a4a4a 0.75px,transparent 0.95px),radial-gradient(circle,#4a4a4a 0.75px,transparent 0.95px);background-size:6px 6px;background-position:4.2px 4.6px,1.2px 1.6px"></div>
<div class="a" style="left:671px;top:566px;width:15px;height:14px;background:#fbf0e8"></div>
<div class="a" style="left:671px;top:566px;width:15px;height:13px;background-color:#fde9d9;background-image:radial-gradient(circle,#4a4a4a 0.75px,transparent 0.95px),radial-gradient(circle,#4a4a4a 0.75px,transparent 0.95px);background-size:6px 6px;background-position:4.2px 4.6px,1.2px 1.6px"></div>
<div class="a" style="left:671px;top:580px;width:15px;height:14px;background:#fbf0e8"></div>
<div class="a" style="left:671px;top:580px;width:15px;height:13px;background-color:#fde9d9;background-image:radial-gradient(circle,#4a4a4a 0.75px,transparent 0.95px),radial-gradient(circle,#4a4a4a 0.75px,transparent 0.95px);background-size:6px 6px;background-position:4.2px 4.6px,1.2px 1.6px"></div>
<div class="a" style="left:671px;top:594px;width:15px;height:13px;background:#fbf0e8"></div>
<div class="a" style="left:671px;top:594px;width:15px;height:12px;background-color:#fde9d9;background-image:radial-gradient(circle,#4a4a4a 0.75px,transparent 0.95px),radial-gradient(circle,#4a4a4a 0.75px,transparent 0.95px);background-size:6px 6px;background-position:4.2px 4.6px,1.2px 1.6px"></div>
<div class="a" style="left:671px;top:607px;width:15px;height:19px;background:#fbf0e8"></div>
<div class="a" style="left:671px;top:607px;width:15px;height:18px;background-color:#fde9d9;background-image:radial-gradient(circle,#4a4a4a 0.75px,transparent 0.95px),radial-gradient(circle,#4a4a4a 0.75px,transparent 0.95px);background-size:6px 6px;background-position:4.2px 4.6px,1.2px 1.6px"></div>
<div class="a" style="left:671px;top:626px;width:15px;height:15px;background:#fbf0e8"></div>
<div class="a" style="left:671px;top:626px;width:15px;height:14px;background-color:#fde9d9;background-image:radial-gradient(circle,#4a4a4a 0.75px,transparent 0.95px),radial-gradient(circle,#4a4a4a 0.75px,transparent 0.95px);background-size:6px 6px;background-position:4.2px 4.6px,1.2px 1.6px"></div>
<div class="a" style="left:671px;top:641px;width:15px;height:14px;background:#fbf0e8"></div>
<div class="a" style="left:671px;top:641px;width:15px;height:13px;background-color:#fde9d9;background-image:radial-gradient(circle,#4a4a4a 0.75px,transparent 0.95px),radial-gradient(circle,#4a4a4a 0.75px,transparent 0.95px);background-size:6px 6px;background-position:4.2px 4.6px,1.2px 1.6px"></div>
<div class="a" style="left:671px;top:655px;width:15px;height:14px;background:#fbf0e8"></div>
<div class="a" style="left:671px;top:655px;width:15px;height:13px;background-color:#fde9d9;background-image:radial-gradient(circle,#4a4a4a 0.75px,transparent 0.95px),radial-gradient(circle,#4a4a4a 0.75px,transparent 0.95px);background-size:6px 6px;background-position:4.2px 4.6px,1.2px 1.6px"></div>
<div class="a" style="left:671px;top:669px;width:15px;height:14px;background:#fbf0e8"></div>
<div class="a" style="left:671px;top:669px;width:15px;height:13px;background-color:#fde9d9;background-image:radial-gradient(circle,#4a4a4a 0.75px,transparent 0.95px),radial-gradient(circle,#4a4a4a 0.75px,transparent 0.95px);background-size:6px 6px;background-position:4.2px 4.6px,1.2px 1.6px"></div>
<div class="a" style="left:671px;top:683px;width:15px;height:13px;background:#fbf0e8"></div>
<div class="a" style="left:671px;top:683px;width:15px;height:12px;background-color:#fde9d9;background-image:radial-gradient(circle,#4a4a4a 0.75px,transparent 0.95px),radial-gradient(circle,#4a4a4a 0.75px,transparent 0.95px);background-size:6px 6px;background-position:4.2px 4.6px,1.2px 1.6px"></div>
<div class="a" style="left:671px;top:696px;width:15px;height:19px;background:#fbf0e8"></div>
<div class="a" style="left:671px;top:696px;width:15px;height:18px;background-color:#fde9d9;background-image:radial-gradient(circle,#4a4a4a 0.75px,transparent 0.95px),radial-gradient(circle,#4a4a4a 0.75px,transparent 0.95px);background-size:6px 6px;background-position:4.2px 4.6px,1.2px 1.6px"></div>
<div class="a" style="left:671px;top:715px;width:15px;height:15px;background:#fbf0e8"></div>
<div class="a" style="left:671px;top:715px;width:15px;height:14px;background-color:#fde9d9;background-image:radial-gradient(circle,#4a4a4a 0.75px,transparent 0.95px),radial-gradient(circle,#4a4a4a 0.75px,transparent 0.95px);background-size:6px 6px;background-position:4.2px 4.6px,1.2px 1.6px"></div>
<div class="a" style="left:671px;top:730px;width:15px;height:13px;background:#fbf0e8"></div>
<div class="a" style="left:671px;top:730px;width:15px;height:12px;background-color:#fde9d9;background-image:radial-gradient(circle,#4a4a4a 0.75px,transparent 0.95px),radial-gradient(circle,#4a4a4a 0.75px,transparent 0.95px);background-size:6px 6px;background-position:4.2px 4.6px,1.2px 1.6px"></div>
<div class="a" style="left:671px;top:743px;width:15px;height:19px;background:#fbf0e8"></div>
<div class="a" style="left:671px;top:743px;width:15px;height:18px;background-color:#fde9d9;background-image:radial-gradient(circle,#4a4a4a 0.75px,transparent 0.95px),radial-gradient(circle,#4a4a4a 0.75px,transparent 0.95px);background-size:6px 6px;background-position:4.2px 4.6px,1.2px 1.6px"></div>
<div class="a" style="left:671px;top:762px;width:15px;height:15px;background:#fbf0e8"></div>
<div class="a" style="left:671px;top:762px;width:15px;height:14px;background-color:#fde9d9;background-image:radial-gradient(circle,#4a4a4a 0.75px,transparent 0.95px),radial-gradient(circle,#4a4a4a 0.75px,transparent 0.95px);background-size:6px 6px;background-position:4.2px 4.6px,1.2px 1.6px"></div>
<div class="a" style="left:671px;top:777px;width:15px;height:14px;background:#fbf0e8"></div>
<div class="a" style="left:671px;top:777px;width:15px;height:13px;background-color:#fde9d9;background-image:radial-gradient(circle,#4a4a4a 0.75px,transparent 0.95px),radial-gradient(circle,#4a4a4a 0.75px,transparent 0.95px);background-size:6px 6px;background-position:4.2px 4.6px,1.2px 1.6px"></div>
<div class="a" style="left:670px;top:121px;width:1px;height:662px;background:#f00000"></div>
<div class="a" style="left:686px;top:121px;width:1px;height:662px;background:#f00000"></div>
<div class="a" style="left:523px;top:0;width:1px;height:783px;background:#777"></div>
<div class="a" style="left:524px;top:1px;width:8px;height:782px;background:linear-gradient(to right,rgba(0,0,0,0.12),rgba(0,0,0,0))"></div>
<div class="a" style="left:331px;top:322px;width:54px;height:17px;border:2px solid #2b6b45"></div>
<div class="a" style="left:380px;top:334px;width:7px;height:7px;background:#3f7856;border:1px solid #fff;box-shadow:inset 0 0 0 1px #2b6b45"></div>
</body></html>
